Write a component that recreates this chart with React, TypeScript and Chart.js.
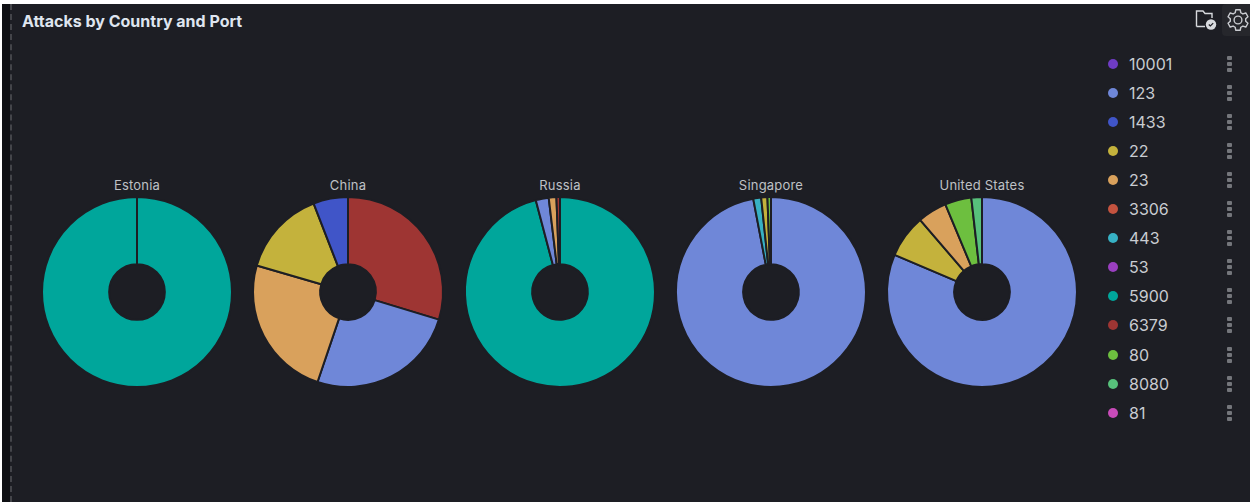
import React, { useEffect, useRef } from "react";
import { Chart, registerables } from "chart.js";

Chart.register(...registerables);

const legendPorts = ["10001", "123", "1433", "22", "23", "3306", "443", "53", "5900", "6379", "80", "8080", "81"];
const legendColors = ["#6f3cc4", "#6f87d8", "#4055c8", "#c4b23c", "#d9a15c", "#c4533f", "#37b1c4", "#9a3fc0", "#00a69b", "#9e3533", "#6dbf3f", "#57c17b", "#c84bb9"];

const countries = ["Estonia", "China", "Russia", "Singapore", "United States"];

const estoniaPorts = ["5900"];
const estoniaValues = [100];
const chinaPorts = ["6379", "123", "23", "22", "1433"];
const chinaValues = [29.7, 25.5, 24.3, 14.6, 5.9];
const russiaPorts = ["5900", "123", "23", "6379"];
const russiaValues = [95.9, 2.2, 1.3, 0.6];
const singaporePorts = ["123", "443", "22", "80"];
const singaporeValues = [97.0, 1.35, 1.05, 0.6];
const usPorts = ["123", "22", "23", "80", "8080"];
const usValues = [81.4, 7.3, 5.0, 4.5, 1.8];

const allPorts = [estoniaPorts, chinaPorts, russiaPorts, singaporePorts, usPorts];
const allValues = [estoniaValues, chinaValues, russiaValues, singaporeValues, usValues];
const centersX = [137, 348, 560, 771, 982];

const PANEL = "#1d1e24";
const FONT = "Inter, 'Noto Sans', sans-serif";

function Pie({ idx }: { idx: number }) {
  const ref = useRef<HTMLCanvasElement | null>(null);
  useEffect(() => {
    const ports = allPorts[idx];
    const chart = new Chart(ref.current!, {
      type: "doughnut",
      data: {
        labels: ports,
        datasets: [
          {
            data: allValues[idx],
            backgroundColor: ports.map((p) => legendColors[legendPorts.indexOf(p)]),
            borderColor: PANEL,
            borderWidth: 2,
          },
        ],
      },
      options: {
        animation: false,
        responsive: false,
        radius: 95,
        cutout: 29,
        layout: { padding: 0 },
        plugins: { legend: { display: false }, tooltip: { enabled: false } },
      },
    });
    return () => chart.destroy();
  }, [idx]);
  return (
    <>
      <div
        style={{
          position: "absolute",
          left: centersX[idx] - 100,
          top: 177,
          width: 200,
          textAlign: "center",
          font: `13px ${FONT}`,
          letterSpacing: "0.2px",
          lineHeight: "16px",
          color: "#bfc1c5",
        }}
      >
        {countries[idx]}
      </div>
      <canvas
        ref={ref}
        width={200}
        height={200}
        style={{ position: "absolute", left: centersX[idx] - 100, top: 192, width: 200, height: 200 }}
      />
    </>
  );
}

function Kebab({ top }: { top: number }) {
  return (
    <div style={{ position: "absolute", left: 1227, top: top - 8 }}>
      {[0, 6, 12].map((d) => (
        <div key={d} style={{ position: "absolute", top: d, left: 0, width: 5, height: 4, borderRadius: 1, background: "#74767b" }} />
      ))}
    </div>
  );
}

export default function App() {
  useEffect(() => {
    document.body.style.margin = "0";
    document.body.style.background = "#ffffff";
  }, []);
  return (
    <div style={{ position: "relative", width: 1250, height: 502, overflow: "hidden", background: "#ffffff" }}>
      <div style={{ position: "absolute", left: 2, top: 4, width: 1248, height: 498, background: PANEL }} />
      <div style={{ position: "absolute", left: 2, top: 4, width: 8, height: 498, background: "#0f1014" }} />
      <div style={{ position: "absolute", left: 10, top: 4, height: 498, borderLeft: "2px dashed #44454a" }} />
      <div
        style={{
          position: "absolute",
          left: 22,
          top: 11,
          font: `700 16px ${FONT}`,
          lineHeight: "20px",
          color: "#dfe5ef",
          whiteSpace: "nowrap",
        }}
      >
        Attacks by Country and Port
      </div>
      <div style={{ position: "absolute", left: 1222, top: 4, width: 28, height: 32, background: "#26272c", borderRadius: "4px 0 0 4px" }} />
      <svg style={{ position: "absolute", left: 1194, top: 9 }} width={24} height={24} viewBox="0 0 24 24">
        <path d="M2.5 14 V2 H9 L11 4.5 H18 V9 M2.5 17.5 H11" fill="none" stroke="#d8dade" strokeWidth={1.4} />
        <path d="M2.5 14 V17.5" fill="none" stroke="#d8dade" strokeWidth={1.4} />
        <circle cx={17} cy={15.5} r={5.2} fill="#d8dade" />
        <path d="M14.8 15.5 L16.4 17 L19.2 14.2" fill="none" stroke={PANEL} strokeWidth={1.2} />
      </svg>
      <svg style={{ position: "absolute", left: 1224.5, top: 7 }} width={26} height={26} viewBox="0 0 24 24">
        <path
          d="M10 2.5 h4 l.6 2.8 1.9 1.1 2.7-.9 2 3.5-2.1 1.9 v2.2 l2.1 1.9-2 3.5-2.7-.9-1.9 1.1-.6 2.8 h-4 l-.6-2.8-1.9-1.1-2.7.9-2-3.5 2.1-1.9 v-2.2 l-2.1-1.9 2-3.5 2.7.9 1.9-1.1 z"
          fill="none"
          stroke="#c9cbd0"
          strokeWidth={1.3}
          strokeLinejoin="round"
        />
        <circle cx={12} cy={12} r={3.6} fill="none" stroke="#c9cbd0" strokeWidth={1.3} />
      </svg>
      {countries.map((_, i) => (
        <Pie key={i} idx={i} />
      ))}
      {legendPorts.map((p, i) => {
        const y = 63.5 + i * 29.1;
        return (
          <React.Fragment key={p}>
            <div style={{ position: "absolute", left: 1108, top: y - 5, width: 10, height: 10, borderRadius: 5, background: legendColors[i] }} />
            <div style={{ position: "absolute", left: 1129, top: Math.round(y - 10), font: `16px ${FONT}`, lineHeight: "20px", color: "#c9ccd1" }}>{p}</div>
            <Kebab top={y} />
          </React.Fragment>
        );
      })}
    </div>
  );
}
